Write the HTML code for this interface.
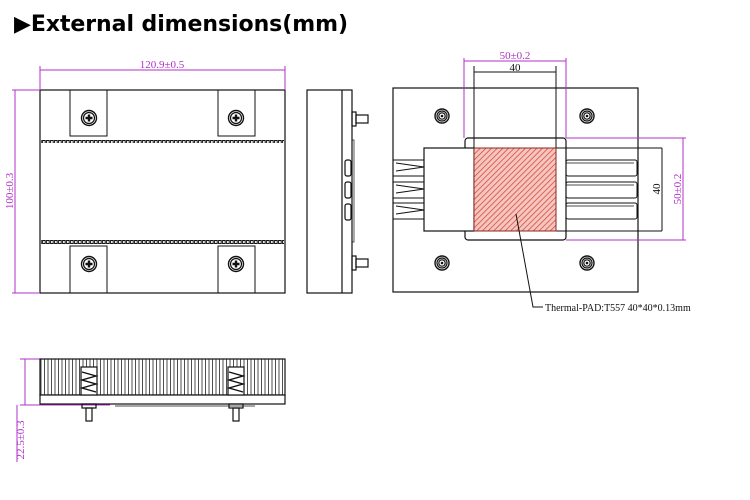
<!DOCTYPE html>
<html><head><meta charset="utf-8"><style>
body{margin:0;background:#fff;width:750px;height:500px;overflow:hidden}
svg{display:block}
</style></head><body>
<svg width="750" height="500" viewBox="0 0 750 500" xmlns="http://www.w3.org/2000/svg">
<defs>
<pattern id="dots" x="42" y="0" width="4" height="10" patternUnits="userSpaceOnUse"><rect x="0.6" y="0.5" width="2.6" height="3" fill="none" stroke="#111" stroke-width="1"/></pattern>
<pattern id="fins" x="40" y="0" width="3.5" height="10" patternUnits="userSpaceOnUse"><line x1="1" y1="0" x2="1" y2="10" stroke="#222" stroke-width="0.8"/></pattern>
<pattern id="hatch" width="4" height="4" patternUnits="userSpaceOnUse" patternTransform="rotate(45)"><rect width="4" height="4" fill="#f4c6c0"/><line x1="0" y1="0" x2="0" y2="4" stroke="#d63a2e" stroke-width="1.4"/></pattern>
<g id="scr"><circle r="7.5" fill="#fff" stroke="#111" stroke-width="1.4"/><circle r="5.5" fill="none" stroke="#111" stroke-width="1.2"/><path d="M-3.5 0H3.5M0 -3.5V3.5" stroke="#111" stroke-width="2.4"/></g>
<g id="hole"><circle r="7" fill="#fff" stroke="#111" stroke-width="1.4"/><circle r="5" fill="none" stroke="#111" stroke-width="1.2"/><circle r="3.2" fill="none" stroke="#111" stroke-width="1.2"/><circle r="1.3" fill="#111"/></g>
</defs>
<text x="14" y="31" font-family="'DejaVu Sans','Liberation Sans',sans-serif" font-weight="bold" font-size="22" textLength="334" fill="#000">▶External dimensions(mm)</text>

<g stroke="#111" fill="none" stroke-width="1.2">
<rect x="40" y="90" width="245" height="203"/>
<rect x="70" y="90" width="37" height="46" stroke-width="1"/>
<rect x="218" y="90" width="37" height="46" stroke-width="1"/>
<rect x="70" y="246" width="37" height="47" stroke-width="1"/>
<rect x="218" y="246" width="37" height="47" stroke-width="1"/>
<rect x="307" y="90" width="45" height="203"/>
<line x1="342" y1="90" x2="342" y2="293"/>
<rect x="352" y="112" width="4" height="14"/><rect x="356" y="115" width="12" height="8"/>
<rect x="352" y="256" width="4" height="14"/><rect x="356" y="259" width="12" height="8"/>
<rect x="352" y="140" width="2" height="102" stroke-width="0.7"/>
<rect x="345" y="160" width="6" height="16" rx="2"/><rect x="345" y="182" width="6" height="16" rx="2"/><rect x="345" y="204" width="6" height="16" rx="2"/>
</g>
<rect x="41" y="139" width="243" height="4" fill="url(#dots)"/>
<rect x="41" y="240" width="243" height="4" fill="url(#dots)"/>
<use href="#scr" x="89" y="118"/><use href="#scr" x="236" y="118"/><use href="#scr" x="89" y="264"/><use href="#scr" x="236" y="264"/>

<g stroke="#111" fill="none" stroke-width="1.2">
<rect x="393" y="88" width="245" height="204"/>
<rect x="465" y="138" width="101" height="102" rx="3" fill="#fff"/>
<rect x="424" y="148" width="50" height="83" fill="#fff"/>
<line x1="556" y1="148" x2="662" y2="148" stroke-width="1"/>
<line x1="556" y1="231" x2="662" y2="231" stroke-width="1"/>
<rect x="566" y="160" width="71" height="16" rx="2" stroke-width="1"/><line x1="566" y1="163" x2="634" y2="163" stroke-width="0.7"/>
<rect x="566" y="182" width="71" height="16" rx="2" stroke-width="1"/><line x1="566" y1="185" x2="634" y2="185" stroke-width="0.7"/>
<rect x="566" y="203" width="71" height="16" rx="2" stroke-width="1"/><line x1="566" y1="206" x2="634" y2="206" stroke-width="0.7"/>
<path d="M393 160h31M393 176h31M393 182h31M393 198h31M393 203h31M393 219h31" stroke-width="1"/>
<path d="M396 163l28 4-28 4M396 185l28 4-28 4M396 206l28 4-28 4" stroke-width="0.9"/>
</g>
<rect x="474" y="148" width="82" height="83" fill="url(#hatch)" stroke="#8a2a22" stroke-width="1"/>
<use href="#hole" x="442" y="116"/><use href="#hole" x="587" y="116"/><use href="#hole" x="442" y="263"/><use href="#hole" x="587" y="263"/>
<polyline points="516,214 533,307 543,307" fill="none" stroke="#111" stroke-width="1"/>
<text x="545" y="311" font-family="'Liberation Serif',serif" font-size="10" fill="#111">Thermal-PAD:T557 40*40*0.13mm</text>

<g stroke="#111" stroke-width="1" fill="none">
<line x1="474" y1="66" x2="474" y2="148"/><line x1="556" y1="66" x2="556" y2="148"/>
<line x1="474" y1="72" x2="556" y2="72"/>
<line x1="662" y1="148" x2="662" y2="231"/>
</g>
<text x="515" y="71" text-anchor="middle" font-family="'Liberation Serif',serif" font-size="11" fill="#111">40</text>
<text transform="translate(660,189) rotate(-90)" text-anchor="middle" font-family="'Liberation Serif',serif" font-size="11" fill="#111">40</text>

<g stroke="#b030c8" stroke-width="1" fill="none">
<line x1="40" y1="66" x2="40" y2="90"/><line x1="285" y1="66" x2="285" y2="90"/>
<line x1="40" y1="70" x2="285" y2="70"/>
<line x1="12" y1="90" x2="40" y2="90"/><line x1="12" y1="293" x2="40" y2="293"/>
<line x1="15" y1="90" x2="15" y2="293"/>
<line x1="464" y1="58" x2="464" y2="138"/><line x1="566" y1="58" x2="566" y2="138"/>
<line x1="464" y1="61" x2="566" y2="61"/>
<line x1="566" y1="138" x2="686" y2="138"/><line x1="566" y1="240" x2="686" y2="240"/>
<line x1="683" y1="138" x2="683" y2="240"/>
<line x1="20" y1="359" x2="40" y2="359"/><line x1="20" y1="405" x2="110" y2="405"/>
<line x1="25" y1="359" x2="25" y2="405"/>
<line x1="17" y1="405" x2="17" y2="462"/>
</g>
<g font-family="'Liberation Serif',serif" font-size="11" fill="#b030c8">
<text x="162" y="68" text-anchor="middle">120.9±0.5</text>
<text transform="translate(13,191) rotate(-90)" text-anchor="middle">100±0.3</text>
<text x="515" y="59" text-anchor="middle">50±0.2</text>
<text transform="translate(681,189) rotate(-90)" text-anchor="middle">50±0.2</text>
<text transform="translate(24,440) rotate(-90)" text-anchor="middle">22.5±0.3</text>
</g>

<rect x="40" y="359" width="245" height="36" fill="url(#fins)"/>
<g stroke="#111" stroke-width="1.2" fill="none">
<rect x="40" y="359" width="245" height="36"/>
<rect x="40" y="395" width="245" height="9" fill="#fff"/>
<line x1="115" y1="406" x2="255" y2="406" stroke-width="0.8"/>
<rect x="81" y="367" width="16" height="28" fill="#fff"/>
<rect x="228" y="367" width="16" height="28" fill="#fff"/>
<path d="M82 372l14 4-14 4 14 4-14 4 14 4M229 372l14 4-14 4 14 4-14 4 14 4" stroke-width="1.4"/>
<rect x="82" y="404" width="14" height="4"/><rect x="86" y="408" width="6" height="13"/>
<rect x="229" y="404" width="14" height="4"/><rect x="233" y="408" width="6" height="13"/>
</g>
</svg>
</body></html>
